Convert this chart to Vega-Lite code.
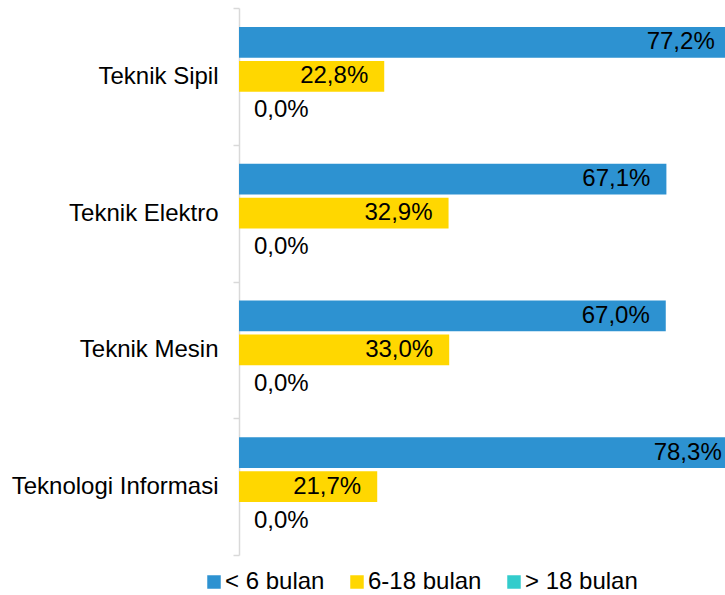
{
  "$schema": "https://vega.github.io/schema/vega-lite/v6.json",
  "autosize": {"type": "none"},
  "padding": {"left": 239, "top": 8, "right": 0, "bottom": 40},
  "width": 486,
  "height": 547,
  "config": {
    "view": {"stroke": null},
    "font": "Liberation Sans",
    "locale": {"number": {"decimal": ",", "thousands": ".", "grouping": [3], "currency": ["", ""]}}
  },
  "data": {
    "values": [
      {"prodi": "Teknik Sipil", "kategori": "< 6 bulan", "nilai": 0.772},
      {"prodi": "Teknik Sipil", "kategori": "6-18 bulan", "nilai": 0.228},
      {"prodi": "Teknik Sipil", "kategori": "> 18 bulan", "nilai": 0.0},
      {"prodi": "Teknik Elektro", "kategori": "< 6 bulan", "nilai": 0.671},
      {"prodi": "Teknik Elektro", "kategori": "6-18 bulan", "nilai": 0.329},
      {"prodi": "Teknik Elektro", "kategori": "> 18 bulan", "nilai": 0.0},
      {"prodi": "Teknik Mesin", "kategori": "< 6 bulan", "nilai": 0.670},
      {"prodi": "Teknik Mesin", "kategori": "6-18 bulan", "nilai": 0.330},
      {"prodi": "Teknik Mesin", "kategori": "> 18 bulan", "nilai": 0.0},
      {"prodi": "Teknologi Informasi", "kategori": "< 6 bulan", "nilai": 0.783},
      {"prodi": "Teknologi Informasi", "kategori": "6-18 bulan", "nilai": 0.217},
      {"prodi": "Teknologi Informasi", "kategori": "> 18 bulan", "nilai": 0.0}
    ]
  },
  "encoding": {
    "y": {
      "field": "prodi", "type": "nominal",
      "sort": ["Teknik Sipil", "Teknik Elektro", "Teknik Mesin", "Teknologi Informasi"],
      "scale": {"paddingInner": 0, "paddingOuter": 0},
      "axis": {
        "title": null,
        "labelFontSize": 24,
        "labelColor": "#000000",
        "labelLimit": 0,
        "labelPadding": 15,
        "domainColor": "#d9d9d9",
        "domainWidth": 1.5,
        "tickColor": "#d9d9d9",
        "tickWidth": 1.5,
        "tickSize": 6,
        "tickBand": "extent"
      }
    },
    "yOffset": {
      "field": "kategori", "type": "nominal",
      "sort": ["< 6 bulan", "6-18 bulan", "> 18 bulan"],
      "scale": {"paddingInner": 0.1, "paddingOuter": 0.56}
    },
    "x": {
      "field": "nilai", "type": "quantitative",
      "scale": {"domain": [0, 0.763], "nice": false},
      "axis": null
    }
  },
  "layer": [
    {
      "mark": {"type": "bar", "clip": true},
      "encoding": {
        "color": {
          "field": "kategori", "type": "nominal",
          "sort": ["< 6 bulan", "6-18 bulan", "> 18 bulan"],
          "scale": {"domain": ["< 6 bulan", "6-18 bulan", "> 18 bulan"], "range": ["#2d92d1", "#ffd700", "#33cccc"]},
          "legend": {
            "title": null,
            "orient": "none",
            "legendX": -37,
            "legendY": 562,
            "direction": "horizontal",
            "columns": 3,
            "columnPadding": 20,
            "symbolType": "square",
            "symbolSize": 182,
            "symbolStrokeWidth": 0,
            "labelFontSize": 24,
            "labelColor": "#000000",
            "labelOffset": -1
          }
        }
      }
    },
    {
      "transform": [{"filter": "datum.nilai > 0"}],
      "mark": {"type": "text", "align": "right", "baseline": "middle", "dx": -16, "fontSize": 24, "color": "#000000"},
      "encoding": {"text": {"field": "nilai", "type": "quantitative", "format": ".1%"}}
    },
    {
      "transform": [{"filter": "datum.nilai == 0"}],
      "mark": {"type": "text", "align": "left", "baseline": "middle", "dx": 15, "fontSize": 24, "color": "#000000"},
      "encoding": {"text": {"field": "nilai", "type": "quantitative", "format": ".1%"}}
    }
  ]
}
